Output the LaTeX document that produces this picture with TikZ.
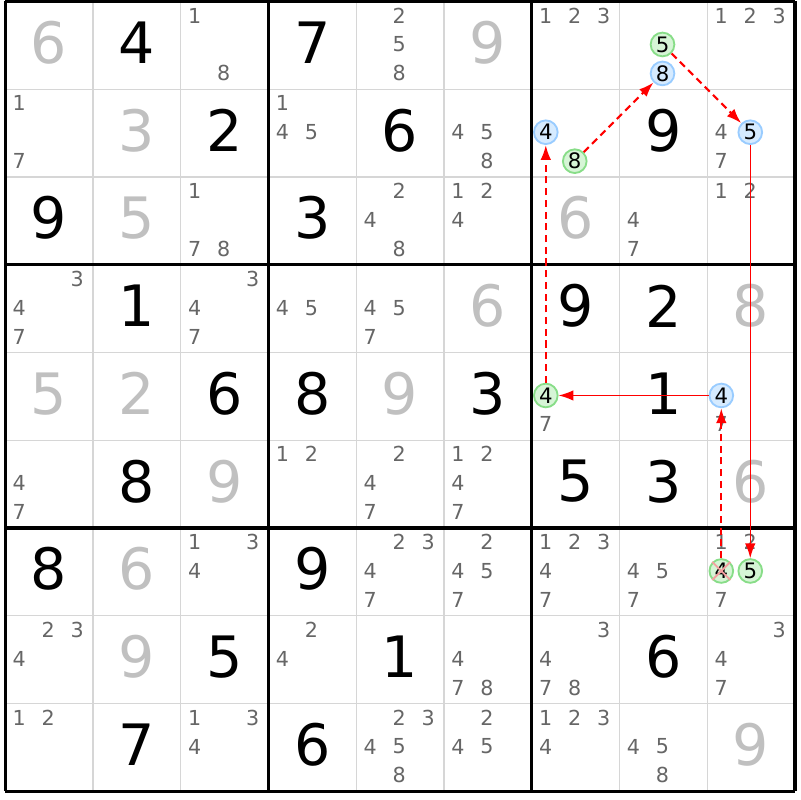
\documentclass[tikz,border=0pt]{standalone}
\usepackage{fontspec}
\setmainfont{DejaVu Sans}
\usetikzlibrary{arrows.meta}

\definecolor{candgray}{HTML}{666666}
\definecolor{solvedgray}{HTML}{C0C0C0}
\definecolor{gridgray}{HTML}{D6D6D6}
\definecolor{gline}{HTML}{88DD88}
\definecolor{gfill}{HTML}{D6F5D6}
\definecolor{bline}{HTML}{99CCFF}
\definecolor{bfill}{HTML}{D6EBFF}
\definecolor{crossred}{HTML}{F4A0A0}

\begin{document}
\begin{tikzpicture}
		[x=1cm,y=1cm,
		given/.style={font=\fontsize{18.5}{20}\selectfont,text=black,inner sep=0pt},
		solved/.style={given,text=solvedgray},
		cand/.style={font=\fontsize{6.7}{7}\selectfont,text=candgray,inner sep=0pt},
		ring/.style={circle,inner sep=0pt,minimum size=0.27cm,line width=0.6pt,font=\fontsize{6.9}{7}\selectfont},
		gring/.style={ring,draw=gline,fill=gfill},
		bring/.style={ring,draw=bline,fill=bfill},
		link/.style={red,line width=0.45pt,-{Latex[length=4.8pt,width=3.4pt]}},
		dlink/.style={link,line width=0.7pt,dash pattern=on 2.3pt off 1.5pt}]
		\useasboundingbox (-0.06,0.017) rectangle (9.057,-9.10);
		
		% grid
		\foreach \i in {1,2,4,5,7,8} {
			\draw[gridgray,line width=0.45pt] (\i,0) -- (\i,-9);
			\draw[gridgray,line width=0.45pt] (0,-\i) -- (9,-\i);
		}
		\foreach \i in {0,3,6,9} {
			\draw[black,line width=1.1pt] (\i,0) -- (\i,-9);
			\draw[black,line width=1.1pt] (0,-\i) -- (9,-\i);
		}
		
		% givens and solved cells
		\foreach \r/\c/\v in {1/2/4, 1/4/7, 2/3/2, 2/5/6, 2/8/9, 3/1/9, 3/4/3, 4/2/1,
			4/7/9, 4/8/2, 5/3/6, 5/4/8, 5/6/3, 5/8/1, 6/2/8, 6/7/5, 6/8/3, 7/1/8,
			7/4/9, 8/3/5, 8/5/1, 8/8/6, 9/2/7, 9/4/6}
		\node[given] (d\r\c) at (\c-0.5,-\r+0.53) {\v};
		\foreach \r/\c/\v in {1/1/6, 1/6/9, 2/2/3, 3/2/5, 3/7/6, 4/6/6, 4/9/8, 5/1/5,
			5/2/2, 5/5/9, 6/3/9, 6/9/6, 7/2/6, 8/2/9, 9/9/9}
		\node[solved] (d\r\c) at (\c-0.5,-\r+0.53) {\v};
		
		% candidates
		\foreach \r/\c/\l in {1/3/{1,8}, 1/5/{2,5,8}, 1/7/{1,2,3}, 1/9/{1,2,3},
			2/1/{1,7}, 2/4/{1,4,5}, 2/6/{4,5,8}, 2/9/{4,7},
			3/3/{1,7,8}, 3/5/{2,4,8}, 3/6/{1,2,4}, 3/8/{4,7}, 3/9/{1,2},
			4/1/{3,4,7}, 4/3/{3,4,7}, 4/4/{4,5}, 4/5/{4,5,7},
			5/7/{7}, 5/9/{7},
			6/1/{4,7}, 6/4/{1,2}, 6/5/{2,4,7}, 6/6/{1,2,4,7},
			7/3/{1,3,4}, 7/5/{2,3,4,7}, 7/6/{2,4,5,7}, 7/7/{1,2,3,4,7}, 7/8/{4,5,7}, 7/9/{1,2,7},
			8/1/{2,3,4}, 8/4/{2,4}, 8/6/{4,7,8}, 8/7/{3,4,7,8}, 8/9/{3,4,7},
			9/1/{1,2}, 9/3/{1,3,4}, 9/5/{2,3,4,5,8}, 9/6/{2,4,5}, 9/7/{1,2,3,4}, 9/8/{4,5,8}}
		\foreach \d in \l {
			\pgfmathtruncatemacro\dx{mod(\d-1,3)}
			\pgfmathtruncatemacro\dy{(\d-1)/3}
			\node[cand] (c\r\c\d) at ({\c-1+0.16+0.33*\dx},{1-\r-0.16-0.33*\dy}) {\d};
		}
		
		% chain
		\node[bring] (b4a) at (6.16,-1.49) {4};
		\node[gring] (g8) at (6.49,-1.82) {8};
		\node[gring] (g5a) at (7.49,-0.49) {5};
		\node[bring] (b8) at (7.49,-0.82) {8};
		\node[bring] (b5) at (8.49,-1.49) {5};
		\node[gring] (g5b) at (8.49,-6.49) {5};
		\node[gring] (g4x) at (8.16,-6.49) {4};
		\node[bring] (b4b) at (8.16,-4.49) {4};
		\node[gring] (g4) at (6.16,-4.49) {4};
		\draw[crossred,line width=0.6pt] (g4x.north west) -- (g4x.south east)
			(g4x.north east) -- (g4x.south west);
		
		\foreach \from/\to in {g8/b8, g5a/b5, g4x/b4b, g4/b4a}
		\draw[dlink] (\from) -- (\to);
		\foreach \from/\to in {b5/g5b, b4b/g4}
		\draw[link] (\from) -- (\to);
\end{tikzpicture}
\end{document}
